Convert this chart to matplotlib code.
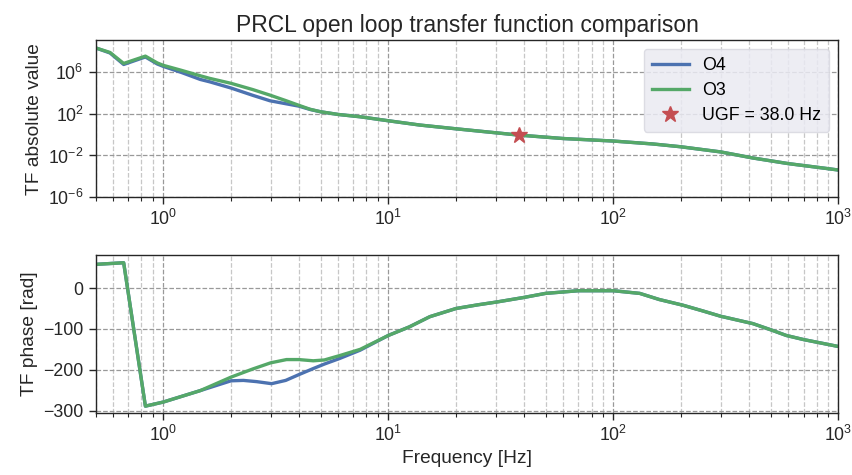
import numpy as np
import matplotlib
matplotlib.use("Agg")
import matplotlib.pyplot as plt
from matplotlib.ticker import LogLocator, NullFormatter, NullLocator

plt.rcParams['font.family'] = ['Liberation Sans', 'DejaVu Sans']

# magnitude (Hz, log10 |TF|)
freq_mag_o3 = [0.5, 0.58, 0.667, 0.833, 0.94, 1.0, 1.2, 1.46, 1.61, 2.0, 2.5, 2.98, 3.5, 4.0, 4.49, 5.0,
               6.0, 7.5, 10, 13.8, 20, 38, 60, 100, 150, 198, 300, 417, 600, 800, 1000]
logmag_o3 = [8.29, 7.85, 6.80, 7.50, 6.85, 6.62, 6.15, 5.62, 5.37, 4.90, 4.30, 3.77, 3.25, 2.80, 2.42, 2.18,
             1.92, 1.70, 1.32, 0.91, 0.55, -0.05, -0.38, -0.62, -0.90, -1.16, -1.66, -2.24, -2.78, -3.12, -3.39]

freq_mag_o4 = [0.5, 0.58, 0.667, 0.833, 0.94, 1.0, 1.2, 1.46, 1.61, 2.0, 2.5, 2.98, 3.5, 4.0, 4.49, 5.0,
               6.0, 7.5, 10, 13.8, 20, 38, 60, 100, 150, 198, 300, 417, 600, 800, 1000]
logmag_o4 = [8.29, 7.80, 6.70, 7.42, 6.75, 6.52, 5.95, 5.27, 5.04, 4.45, 3.75, 3.23, 2.95, 2.72, 2.40, 2.18,
             1.92, 1.70, 1.32, 0.91, 0.55, -0.05, -0.38, -0.62, -0.90, -1.16, -1.66, -2.24, -2.78, -3.12, -3.39]

# phase (Hz, rad as labelled)
freq_ph_o3 = [0.5, 0.667, 0.833, 1.0, 1.46, 2.0, 2.5, 3.0, 3.53, 4.0, 4.64, 5.2, 6.1, 7.5, 10, 12.4,
              15.3, 20, 25, 30.4, 40, 50, 70, 100, 131, 160, 204, 250, 300, 417, 500, 587, 700, 1000]
phase_o3 = [58, 62, -289, -279, -251, -218, -198, -183, -175, -175, -178, -176, -165, -150, -116, -95,
            -70, -50, -41, -34, -23, -13, -6.5, -6.5, -13, -28, -42, -56, -69, -87, -102, -116, -126, -143]

freq_ph_o4 = [0.5, 0.667, 0.833, 1.0, 1.46, 2.0, 2.27, 2.6, 3.03, 3.5, 4.0, 4.64, 5.2, 6.1, 7.5, 10, 12.4,
              15.3, 20, 25, 30.4, 40, 50, 70, 100, 131, 160, 204, 250, 300, 417, 500, 587, 700, 1000]
phase_o4 = [58, 62, -289, -279, -251, -227, -226, -229, -234, -226, -212, -197, -186, -172, -152, -116, -95,
            -70, -50, -41, -34, -23, -13, -6.5, -6.5, -13, -28, -42, -56, -69, -87, -102, -116, -126, -143]

ugf_freq = 38.0
ugf_mag = 1.0

blue, green, red = '#4C72B0', '#55A868', '#C44E52'

fig = plt.figure(figsize=(8.52, 4.75), dpi=100)
ax1 = fig.add_axes([0.1121, 0.5846, 0.8719, 0.3312])
ax2 = fig.add_axes([0.1121, 0.1312, 0.8719, 0.3320])

ax1.loglog(freq_mag_o4, 10 ** np.array(logmag_o4), color=blue, lw=2.4, label='O4')
ax1.loglog(freq_mag_o3, 10 ** np.array(logmag_o3), color=green, lw=2.4, label='O3')
ax1.plot(ugf_freq, ugf_mag, '*', color=red, ms=12, ls='none', label=f'UGF = {ugf_freq:.1f} Hz')
ax1.set_ylim(1e-6, 1.1e9)
ax1.set_yticks([1e-6, 1e-2, 1e2, 1e6])
ax1.yaxis.set_minor_locator(NullLocator())
ax1.set_ylabel('TF absolute value', fontsize=13.8)
ax1.set_title('PRCL open loop transfer function comparison', fontsize=16.5, color='0.15')
leg = ax1.legend(loc='upper right', fontsize=12.8, facecolor='#EAEAF2', edgecolor='#D8D8E0',
                 framealpha=0.85, borderpad=0.45, handlelength=2.1, handletextpad=0.75,
                 labelspacing=0.45)

ax2.semilogx(freq_ph_o4, phase_o4, color=blue, lw=2.4)
ax2.semilogx(freq_ph_o3, phase_o3, color=green, lw=2.4)
ax2.set_ylim(-305, 81)
ax2.set_yticks([0, -100, -200, -300])
ax2.set_ylabel('TF phase [rad]', fontsize=13.8)
ax2.set_xlabel('Frequency [Hz]', fontsize=13.8)

for ax in (ax1, ax2):
    ax.set_xlim(0.5, 1000)
    ax.xaxis.set_major_locator(LogLocator(base=10, numticks=10))
    ax.xaxis.set_minor_locator(LogLocator(base=10, subs=np.arange(2, 10), numticks=20))
    ax.xaxis.set_minor_formatter(NullFormatter())
    ax.grid(True, which='major', ls='--', color='0.6', lw=0.9)
    ax.grid(True, which='minor', axis='x', ls='--', color='0.78', lw=0.9)
    ax.tick_params(which='major', length=5, width=1, color='0.15', labelsize=12.8, labelcolor='0.15')
    ax.tick_params(which='minor', length=3, width=0.8, color='0.15')
    for s in ax.spines.values():
        s.set_color('0.15')
        s.set_linewidth(1.0)
    ax.yaxis.label.set_color('0.15')
    ax.xaxis.label.set_color('0.15')

fig.savefig('out.png', dpi=100)
